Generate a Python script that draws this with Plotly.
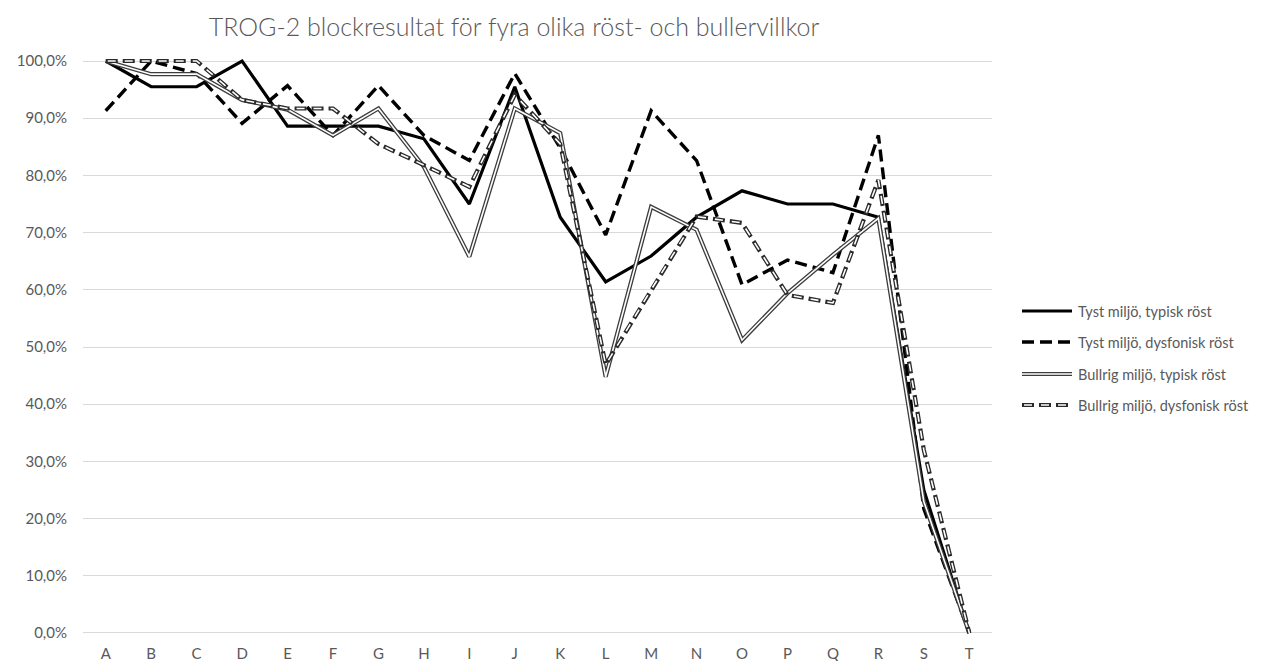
import plotly.graph_objects as go

categories = list("ABCDEFGHIJKLMNOPQRST")

tyst_typisk = [1.000, 0.955, 0.955, 1.000, 0.886, 0.886, 0.886, 0.864, 0.750, 0.955,
               0.727, 0.614, 0.659, 0.727, 0.773, 0.750, 0.750, 0.727, 0.250, 0.000]
tyst_dysfonisk = [0.913, 1.000, 0.978, 0.891, 0.957, 0.870, 0.957, 0.870, 0.826, 0.978,
                  0.848, 0.696, 0.913, 0.826, 0.609, 0.652, 0.630, 0.870, 0.217, 0.000]
bullrig_typisk = [1.000, 0.977, 0.977, 0.932, 0.915, 0.870, 0.917, 0.815, 0.658, 0.917,
                  0.874, 0.448, 0.745, 0.705, 0.512, 0.594, 0.661, 0.725, 0.230, 0.000]
bullrig_dysfonisk = [1.000, 1.000, 1.000, 0.932, 0.917, 0.917, 0.855, 0.818, 0.780, 0.941,
                     0.855, 0.469, 0.600, 0.728, 0.717, 0.591, 0.577, 0.792, 0.320, 0.000]

series_names = ["Tyst miljö, typisk röst", "Tyst miljö, dysfonisk röst",
                "Bullrig miljö, typisk röst", "Bullrig miljö, dysfonisk röst"]

title_text = "TROG-2 blockresultat för fyra olika röst- och bullervillkor"
FONT = "Lato"
GREY = "#595959"

# page body has an 8px default margin: place the figure so it lands where intended
OFF = 8
W, H = 1267 - 2 * OFF, 661 - OFF

# line styles: (outer color, outer width, outer dash, inner color, inner width, inner dash)
styles = [
    ("#000000", 3.2, "solid", None, None, None),
    ("#000000", 3.4, "12px,6px", None, None, None),
    ("#3c3c3c", 4.2, "solid", "#ffffff", 1.6, "solid"),
    ("#2a2a2a", 4.2, "12px,5px", "#ffffff", 1.6, "0px,2px,8px,7px"),
]

fig = go.Figure()
all_series = [tyst_typisk, tyst_dysfonisk, bullrig_typisk, bullrig_dysfonisk]
for name, vals, st in zip(series_names, all_series, styles):
    oc, ow, od, ic, iw, idash = st
    fig.add_trace(go.Scatter(x=categories, y=vals, mode="lines", name=name,
                             line=dict(color=oc, width=ow, dash=od),
                             showlegend=False, hoverinfo="x+y+name"))
    if ic:
        fig.add_trace(go.Scatter(x=categories, y=vals, mode="lines", name=name,
                                 line=dict(color=ic, width=iw, dash=idash),
                                 showlegend=False, hoverinfo="skip"))

# plot area in window coordinates
pl, pr = 83, 992
ptop, pbot = 55, 639
ymin, ymax = -0.0105, 1.0105
def px2paper(px):
    return (px - pl) / (pr - pl)
def py2data(py):
    return ymax - (py - ptop) / (pbot - ptop) * (ymax - ymin)

legend_rows = [311, 342, 374, 405]
shapes = []
annotations = []
for name, row, st in zip(series_names, legend_rows, styles):
    oc, ow, od, ic, iw, idash = st
    yv = py2data(row)
    shapes.append(dict(type="line", xref="paper", yref="y",
                       x0=px2paper(1022), x1=px2paper(1072), y0=yv, y1=yv,
                       line=dict(color=oc, width=ow, dash=od)))
    if ic:
        shapes.append(dict(type="line", xref="paper", yref="y",
                           x0=px2paper(1022), x1=px2paper(1072), y0=yv, y1=yv,
                           line=dict(color=ic, width=iw, dash=idash)))
    annotations.append(dict(xref="paper", yref="y", x=px2paper(1076), y=yv,
                            text=name, showarrow=False, xanchor="left", yanchor="middle",
                            font=dict(family=FONT, size=14.5, color=GREY)))

fig.update_layout(
    width=W, height=H, autosize=False,
    margin=dict(l=pl - OFF, r=W + OFF - pr, t=ptop - OFF, b=H + OFF - pbot,
                autoexpand=False),
    paper_bgcolor="white", plot_bgcolor="white",
    separators=", ",
    title=dict(text=title_text, x=(514 - OFF) / W, xref="container", xanchor="center",
               y=1 - (27 - OFF) / H, yref="container", yanchor="middle",
               font=dict(family=FONT, size=25, color=GREY, weight=300)),
    xaxis=dict(type="category", range=[-0.5, 19.5], showgrid=False, showline=False,
               zeroline=False, ticks="", ticklabelstandoff=4, automargin=False,
               tickfont=dict(family=FONT, size=15, color=GREY),
               fixedrange=True),
    yaxis=dict(range=[ymin, ymax], tickvals=[i/10 for i in range(11)], tickformat=".1%",
               showgrid=True, gridcolor="#d9d9d9", gridwidth=1, zeroline=True,
               zerolinecolor="#d9d9d9", zerolinewidth=1, showline=False, ticks="",
               ticklabelstandoff=15, automargin=False,
               tickfont=dict(family=FONT, size=15, color=GREY), fixedrange=True),
    shapes=shapes, annotations=annotations,
    showlegend=False,
)

fig.write_html("out.html")
